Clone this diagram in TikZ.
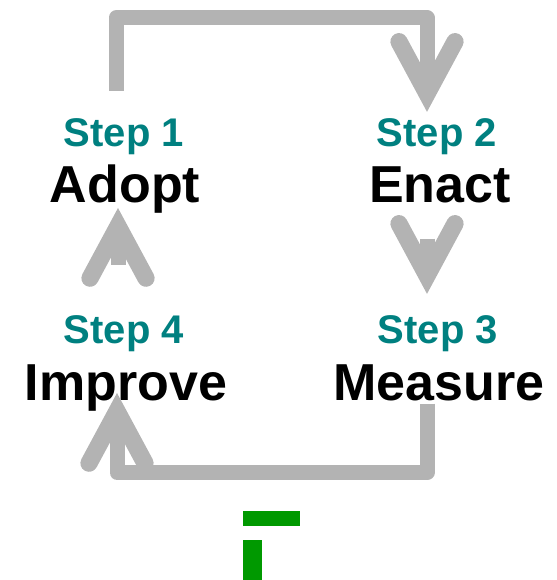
\documentclass[tikz,border=0pt]{standalone}
\usepackage{fontspec}
\setmainfont{Liberation Sans}
\usepackage{tikz}
\usetikzlibrary{arrows.meta}
\definecolor{flowgray}{RGB}{179,179,179}
\definecolor{stepteal}{RGB}{0,128,128}
\definecolor{markgreen}{RGB}{0,153,0}

\begin{document}
\begin{tikzpicture}[x=1pt,y=-1pt,
  steplabel/.style={anchor=base, inner sep=0pt, text=stepteal,
    font=\fontsize{40}{48}\selectfont\bfseries},
  stepname/.style={anchor=base, inner sep=0pt,
    font=\fontsize{52}{60}\selectfont\bfseries},
  flow/.style={draw=flowgray, line width=15pt, line join=round,
    -{Straight Barb[length=52pt,width=56pt,line width=0pt 1.15,line cap=round,line join=miter]}}]
 \useasboundingbox (0,0) rectangle (556,580);

 % Pasos
 \node[steplabel] (s1) at (124,147) {Step 1};
 \node[stepname]  (n1) at (125,202) {Adopt};
 \node[steplabel] (s2) at (437,147) {Step 2};
 \node[stepname]  (n2) at (440,202) {Enact};
 \node[steplabel] (s3) at (438,343) {Step 3};
 \node[stepname]  (n3) at (439,400) {Measure};
 \node[steplabel] (s4) at (124,343) {Step 4};
 \node[stepname]  (n4) at (126,400) {Improve};

 % Flechas
 \draw[flow] ([xshift=-8pt,yshift=28pt]s1.north) -- ++(0,-73)
   -| ([xshift=-10pt,yshift=7pt]s2.north);
 \draw[flow] ([xshift=-13pt,yshift=-36pt]n2.south)
   -- ([xshift=-11pt,yshift=21pt]s3.north);
 \draw[flow] ([xshift=-12pt,yshift=-3pt]n3.south) -- ++(0,69)
   -| ([xshift=-9pt,yshift=18pt]n4.south);
 \draw[flow] ([xshift=-6pt,yshift=50pt]s4.north)
   -- ([xshift=-7pt,yshift=5pt]n1.south);

 % Marca verde
 \fill[markgreen] (243,511) rectangle (300,526);
 \fill[markgreen] (243,540) rectangle (262,580);
\end{tikzpicture}
\end{document}
